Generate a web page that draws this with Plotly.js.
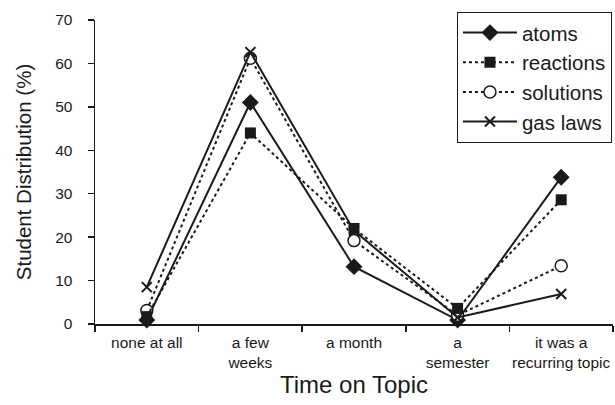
<!DOCTYPE html>
<html>
<head>
<meta charset="utf-8">
<script src="https://cdn.plot.ly/plotly-3.0.1.min.js"></script>
<style>html,body{margin:0;padding:0;background:#fff;}#chart{width:615px;height:405px;}</style>
</head>
<body>
<div id="chart"></div>
<script>
const categories = ["none at all", "a few<br>weeks", "a month", "a<br>semester", "it was a<br>recurring topic"];
const atoms = [0.9, 51, 13.2, 0.9, 33.8];
const reactions = [1.7, 44, 22, 3.6, 28.6];
const solutions = [3.1, 61.2, 19.2, 2.0, 13.4];
const gasLaws = [8.5, 62.6, 21.5, 1.5, 6.9];
const yTicks = [0, 10, 20, 30, 40, 50, 60, 70];

const ink = "#1a1a1a";
function tr(name, y, dash, symbol, size, fill, lw, rank) {
  return {
    type: "scatter", mode: "lines+markers", name: name, x: categories, y: y,
    line: {color: ink, width: 2, dash: dash},
    marker: {symbol: symbol, size: size, color: fill, line: {color: ink, width: lw}},
    cliponaxis: false, legendrank: rank
  };
}
const data = [
  tr("atoms", atoms, "solid", "diamond", 13, ink, 0, 1),
  tr("solutions", solutions, "dot", "circle", 12, "#ffffff", 1.5, 3),
  tr("reactions", reactions, "dot", "square", 11, ink, 0, 2),
  tr("gas laws", gasLaws, "solid", "x-thin-open", 10, ink, 2, 4)
];

const layout = {
  width: 615, height: 405,
  margin: {l: 95, r: 2, t: 20, b: 81},
  paper_bgcolor: "#fff", plot_bgcolor: "#fff",
  font: {family: "Liberation Sans, Arial, sans-serif", color: ink},
  showlegend: true,
  legend: {
    x: 0.998, xanchor: "right", y: 1.027, yanchor: "top",
    bordercolor: ink, borderwidth: 1, bgcolor: "#fff",
    font: {size: 20.5, color: ink}, traceorder: "normal", itemwidth: 54
  },
  xaxis: {
    type: "category", range: [-0.5, 4.5], tickson: "boundaries",
    ticks: "outside", ticklen: 6, tickwidth: 1.5, tickcolor: ink, tickangle: 0,
    showline: true, linecolor: ink, linewidth: 1.5, showgrid: false, zeroline: false,
    tickfont: {size: 15.5, color: ink}, ticklabelstandoff: 4,
    title: {text: "Time on Topic", font: {size: 24, color: ink}, standoff: 5}
  },
  yaxis: {
    range: [0, 70], tickvals: yTicks, ticktext: yTicks.map(String),
    ticks: "outside", ticklen: 6, tickwidth: 1.5, tickcolor: ink,
    showline: true, linecolor: ink, linewidth: 1.5, showgrid: false, zeroline: false,
    tickfont: {size: 15.5, color: ink}, ticklabelstandoff: 12,
    title: {text: "Student Distribution (%)", font: {size: 20.5, color: ink}, standoff: 18}
  }
};
Plotly.newPlot("chart", data, layout, {displayModeBar: false, staticPlot: true});
</script>
</body>
</html>
